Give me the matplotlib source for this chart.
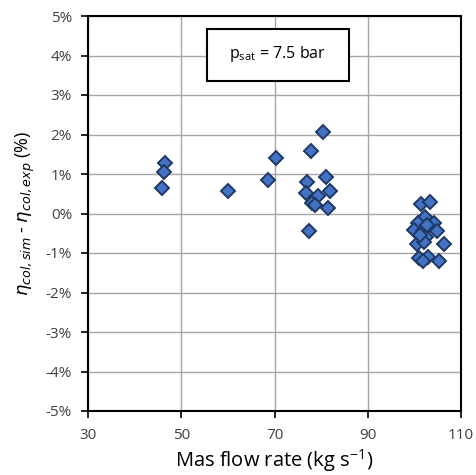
import matplotlib
matplotlib.use("Agg")
import matplotlib.pyplot as plt
from matplotlib.ticker import FuncFormatter
from matplotlib.patches import Rectangle

flow = [46.5, 46.3, 45.9, 60.1, 68.7, 70.3,
        80.3, 77.8, 77.0, 81.0, 81.9, 76.8, 79.4, 78.0, 78.6, 81.5, 77.4,
        101.5, 103.3, 102.3, 100.8, 104.2, 100.0, 101.8, 104.8, 102.6, 100.5,
        102.0, 106.3, 101.0, 103.0, 101.8, 105.3, 102.8, 101.2]
dev = [1.29, 1.06, 0.65, 0.58, 0.85, 1.40,
       2.06, 1.58, 0.81, 0.92, 0.57, 0.53, 0.44, 0.26, 0.22, 0.15, -0.44,
       0.25, 0.28, -0.10, -0.25, -0.25, -0.42, -0.45, -0.45, -0.60, -0.78,
       -0.72, -0.78, -1.12, -1.10, -1.20, -1.20, -0.30, -0.55]

xticks = [30, 50, 70, 90, 110]
yticks = [-5, -4, -3, -2, -1, 0, 1, 2, 3, 4, 5]

plt.rcParams['font.family'] = ['Open Sans', 'DejaVu Sans']

fig = plt.figure(figsize=(4.76, 4.75), dpi=100)
ax = fig.add_axes([88/476, 1-411/475, (461-88)/476, (411-16)/475])

ax.plot(flow, dev, linestyle='none', marker='D', markersize=7.2,
        markerfacecolor='#4472C4', markeredgecolor='#1F3864', markeredgewidth=1.4,
        zorder=3)

ax.set_xlim(30, 110)
ax.set_ylim(-5, 5)
ax.set_xticks(xticks)
ax.set_yticks(yticks)
ax.yaxis.set_major_formatter(FuncFormatter(lambda v, p: f"{int(round(v))}%"))
ax.grid(True, color='#A6A6A6', linewidth=1.0, zorder=0)
ax.set_axisbelow(True)
for s in ax.spines.values():
    s.set_linewidth(1.5)
    s.set_color('black')
ax.tick_params(axis='both', direction='out', length=5, width=1.2, labelsize=11,
               colors='black', labelcolor='#404040')
ax.tick_params(axis='x', pad=7)
ax.tick_params(axis='y', pad=6.5)

ax.set_xlabel(r"Mas flow rate (kg s$^{\mathregular{-1}}$)", fontsize=14.5, labelpad=3)
ax.set_ylabel(r"$\eta_{col,sim}$ - $\eta_{col,exp}$ (%)", fontsize=13, labelpad=6)

ax.add_patch(Rectangle((0.319, 0.835), 0.381, 0.132, transform=ax.transAxes,
                       facecolor='white', edgecolor='black', linewidth=1.5, zorder=4))
ax.text(0.509, 0.903, r"p$_{\mathregular{sat}}$ = 7.5 bar", transform=ax.transAxes,
        ha='center', va='center', fontsize=11.5, zorder=5)

fig.savefig("out.png", dpi=100)
